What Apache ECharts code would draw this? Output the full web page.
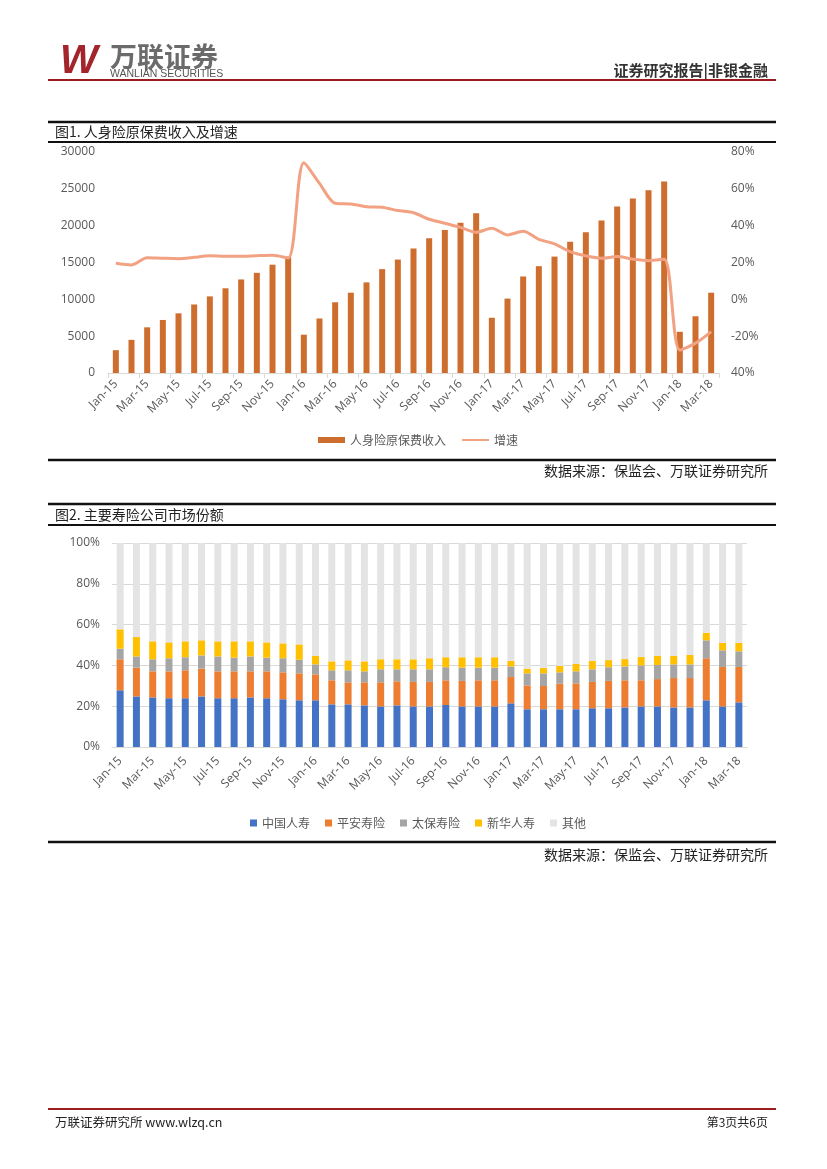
<!DOCTYPE html>
<html>
<head>
<meta charset="utf-8">
<script src="https://cdn.jsdelivr.net/npm/echarts@6/dist/echarts.min.js"></script>
<style>
html,body{margin:0;padding:0;background:#fff;}
#c{width:827px;height:1169px;}
</style>
</head>
<body>
<div id="c"></div>
<script>
// ---- Data ----
const months = ['Jan-15','Feb-15','Mar-15','Apr-15','May-15','Jun-15','Jul-15','Aug-15','Sep-15','Oct-15','Nov-15','Dec-15',
  'Jan-16','Feb-16','Mar-16','Apr-16','May-16','Jun-16','Jul-16','Aug-16','Sep-16','Oct-16','Nov-16','Dec-16',
  'Jan-17','Feb-17','Mar-17','Apr-17','May-17','Jun-17','Jul-17','Aug-17','Sep-17','Oct-17','Nov-17','Dec-17',
  'Jan-18','Feb-18','Mar-18'];

// 图1: 人身险原保费收入 (亿元) and 增速 (%)
const premium = [3100,4500,6200,7200,8100,9300,10400,11500,12700,13600,14700,15800,
  5200,7400,9600,10900,12300,14100,15400,16900,18300,19400,20400,21700,
  7500,10100,13100,14500,15800,17800,19100,20700,22600,23700,24800,26000,
  5600,7700,10900];
const growth = [19.6,18.7,22.6,22.3,22.1,22.8,23.7,23.4,23.4,23.7,23.9,22.4,
  74.2,63.0,52.2,51.8,50.3,50.0,48.2,47.0,43.5,41.3,39.1,36.4,
  38.6,35.0,37.0,32.6,30.1,25.9,23.6,22.3,23.2,21.8,21.0,21.8,
  -27.5,-23.8,-17.5];
const leftTicks = {min:0, max:30000, interval:5000};
const rightTicks = {min:-40, max:80, interval:20};

// 图2: 主要寿险公司市场份额 (%)
const shareChinaLife = [27.8,24.8,24.3,23.9,23.9,24.8,23.9,23.9,24.3,23.9,23.4,22.9,
  22.9,20.9,20.9,20.4,19.9,20.4,19.9,19.9,20.6,19.9,19.9,19.9,
  21.4,18.5,18.5,18.5,18.5,19.0,19.0,19.4,19.9,19.9,19.4,19.4,
  22.9,19.9,21.9];
const sharePingAn = [15.2,14.1,12.8,13.2,13.7,13.6,13.2,13.2,12.8,13.2,13.2,13.2,
  12.7,11.8,10.8,11.3,11.8,11.8,12.0,12.0,12.1,12.5,12.8,12.8,
  12.9,11.7,11.4,12.5,12.7,12.9,13.4,13.3,12.8,13.4,14.4,14.4,
  20.6,19.3,17.3];
const shareCPIC = [5.2,5.5,5.9,6.4,6.4,6.5,7.3,6.7,7.3,6.7,6.9,6.7,
  4.9,4.9,5.9,5.4,6.4,5.9,6.2,6.2,6.4,6.5,6.2,6.2,
  5.2,5.9,6.2,5.6,5.9,6.2,6.7,6.8,7.3,6.9,6.7,6.7,
  8.8,8.2,7.7];
const shareNCI = [9.5,9.5,8.8,7.8,7.8,7.4,7.4,8.0,7.4,7.5,7.3,7.5,
  4.1,4.4,4.9,4.9,4.9,4.9,4.9,5.4,4.9,5.1,5.1,5.1,
  2.7,2.3,2.6,3.1,3.6,4.1,3.5,3.6,4.1,4.4,4.1,4.6,
  3.6,3.6,4.1];
const shareOther = shareChinaLife.map((v,i)=>+(100 - v - sharePingAn[i] - shareCPIC[i] - shareNCI[i]).toFixed(1));
const shareTicks = {min:0, max:100, interval:20};

const seriesNames1 = ['人身险原保费收入','增速'];
const seriesNames2 = ['中国人寿','平安寿险','太保寿险','新华人寿','其他'];

// ---- Chart ----
const CJK = '"Noto Sans CJK SC", sans-serif';
const LAT = '"Open Sans", "Noto Sans", sans-serif';
const axisGray = '#595959';
const lineGray = '#D9D9D9';

function hline(y, x1, x2, w, color){
  return {type:'line', shape:{x1:x1, y1:y, x2:x2, y2:y}, style:{stroke:color, lineWidth:w}, silent:true};
}
function txt(x, y, s, size, color, align, weight, family){
  return {type:'text', x:x, y:y, silent:true, style:{text:s, fill:color, font:(weight||'normal')+' '+size+'px '+(family||CJK), textAlign:align||'left', textVerticalAlign:'middle'}};
}

const chart = echarts.init(document.getElementById('c'), null, {renderer:'canvas'});
const option = {
  animation:false,
  backgroundColor:'#fff',
  graphic:[
    // header
    {type:'text', x:60, y:62, silent:true, style:{text:'W', fill:'#A3242A', font:'italic bold 40px "Liberation Sans", sans-serif', textAlign:'left', textVerticalAlign:'middle'}},
    txt(110, 57, '万联证券', 27, '#6B6B6B', 'left', 'bold'),
    txt(110, 74, 'WANLIAN SECURITIES', 10.5, '#555555', 'left', 'normal', '"Liberation Sans", sans-serif'),
    txt(768, 70, '证券研究报告|非银金融', 15, '#333333', 'right', 'bold'),
    hline(80, 48, 776, 2, '#9B1C1F'),
    // chart 1 title
    hline(122, 48, 776, 2.5, '#111'),
    txt(55, 132, '图1. 人身险原保费收入及增速', 14, '#222', 'left'),
    hline(142, 48, 776, 2, '#111'),
    hline(460, 48, 776, 2.5, '#111'),
    txt(768, 471, '数据来源：保监会、万联证券研究所', 14, '#222', 'right'),
    // chart 2 title
    hline(504, 48, 776, 2.5, '#111'),
    txt(55, 515, '图2. 主要寿险公司市场份额', 14, '#222', 'left'),
    hline(525, 48, 776, 2, '#111'),
    hline(842, 48, 776, 2.5, '#111'),
    txt(768, 855, '数据来源：保监会、万联证券研究所', 14, '#222', 'right'),
    // footer
    hline(1109, 48, 776, 2, '#9B1C1F'),
    txt(55, 1122, '万联证券研究所 www.wlzq.cn', 12.5, '#222', 'left'),
    txt(768, 1122, '第3页共6页', 12, '#222', 'right')
  ],
  legend:[
    {data:[{name:seriesNames1[0], icon:'rect'}, {name:seriesNames1[1], itemStyle:{color:'rgba(0,0,0,0)', borderWidth:0, opacity:0}}],
      left:313, top:429, itemWidth:27, itemHeight:6, itemGap:15,
      textStyle:{color:axisGray, fontSize:12, fontFamily:CJK}},
    {data:seriesNames2.map(n=>({name:n, icon:'rect'})), left:245, top:812, itemWidth:7, itemHeight:7, itemGap:15,
      textStyle:{color:axisGray, fontSize:12, fontFamily:CJK}}
  ],
  grid:[
    {left:108, right:108, top:152, height:221},
    {left:112, right:80, top:543, height:204}
  ],
  xAxis:[
    {type:'category', gridIndex:0, data:months, boundaryGap:true,
      axisLine:{lineStyle:{color:lineGray}},
      axisTick:{show:true, interval:1, length:5, lineStyle:{color:lineGray}},
      axisLabel:{interval:1, rotate:45, color:axisGray, fontSize:12, fontFamily:LAT, margin:9}},
    {type:'category', gridIndex:1, data:months, boundaryGap:true,
      axisLine:{lineStyle:{color:lineGray}},
      axisTick:{show:false},
      axisLabel:{interval:1, rotate:45, color:axisGray, fontSize:12, fontFamily:LAT, margin:12}}
  ],
  yAxis:[
    {type:'value', gridIndex:0, min:leftTicks.min, max:leftTicks.max, interval:leftTicks.interval,
      axisLine:{show:false}, axisTick:{show:false}, splitLine:{show:false},
      axisLabel:{color:axisGray, fontSize:12, fontFamily:LAT, margin:13, formatter:v=>String(v)}},
    {type:'value', gridIndex:0, position:'right', min:rightTicks.min, max:rightTicks.max, interval:rightTicks.interval,
      axisLine:{show:false}, axisTick:{show:false}, splitLine:{show:false},
      axisLabel:{color:axisGray, fontSize:12, fontFamily:LAT, margin:12, formatter:v=>(v===-40?'40%':v+'%')}},
    {type:'value', gridIndex:1, min:shareTicks.min, max:shareTicks.max, interval:shareTicks.interval,
      axisLine:{show:false}, axisTick:{show:false},
      splitLine:{lineStyle:{color:lineGray, width:1}},
      axisLabel:{color:axisGray, fontSize:12, fontFamily:LAT, margin:12, formatter:v=>v+'%'}}
  ],
  series:[
    {name:seriesNames1[0], type:'bar', xAxisIndex:0, yAxisIndex:0, data:premium, barWidth:6, itemStyle:{color:'#CD6D2E'}},
    {name:seriesNames1[1], type:'line', xAxisIndex:0, yAxisIndex:1, data:growth, smooth:0.3, symbol:'none',
      lineStyle:{color:'#F2A283', width:3}, itemStyle:{color:'#F2A283'}},
    {name:seriesNames2[0], type:'bar', stack:'s', xAxisIndex:1, yAxisIndex:2, data:shareChinaLife, barWidth:7, itemStyle:{color:'#4472C4'}},
    {name:seriesNames2[1], type:'bar', stack:'s', xAxisIndex:1, yAxisIndex:2, data:sharePingAn, barWidth:7, itemStyle:{color:'#ED7D31'}},
    {name:seriesNames2[2], type:'bar', stack:'s', xAxisIndex:1, yAxisIndex:2, data:shareCPIC, barWidth:7, itemStyle:{color:'#A5A5A5'}},
    {name:seriesNames2[3], type:'bar', stack:'s', xAxisIndex:1, yAxisIndex:2, data:shareNCI, barWidth:7, itemStyle:{color:'#FFC000'}},
    {name:seriesNames2[4], type:'bar', stack:'s', xAxisIndex:1, yAxisIndex:2, data:shareOther, barWidth:7, itemStyle:{color:'#E4E4E4'}}
  ]
};
chart.setOption(option);
</script>
</body>
</html>
